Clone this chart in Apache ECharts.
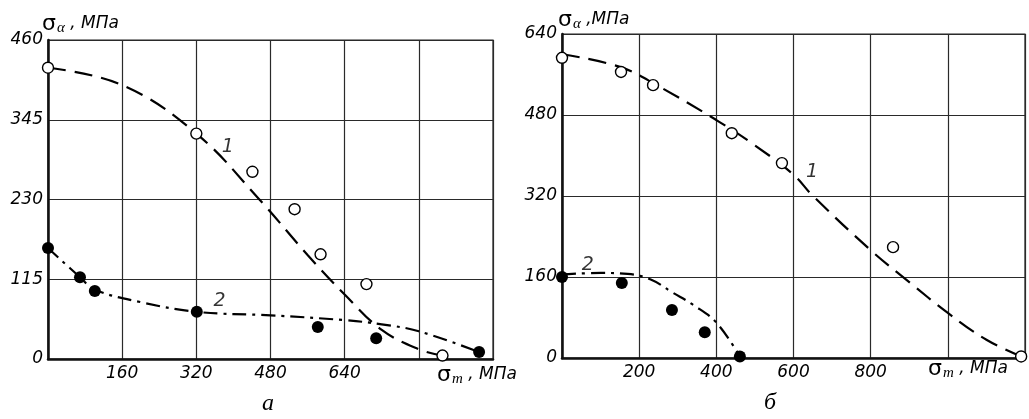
<!DOCTYPE html>
<html><head><meta charset="utf-8">
<script src="https://cdn.jsdelivr.net/npm/echarts@6/dist/echarts.min.js"></script>
<style>html,body{margin:0;padding:0;background:#fff}#c{width:1029px;height:419px}</style>
</head><body><div id="c"></div>
<script>
// ---- data: chart "а" (left) ----
const aXTicks = [160, 320, 480, 640];
const aYTicks = [0, 115, 230, 345, 460];
const aPts1 = [[0,420],[320,325],[441,270],[532,216],[588,151],[687,108],[851,5]];
const aCurve1 = [[0,420],[160,395],[320,325],[456,230],[560,150],[640,93],[720,42],[800,14],[851,5]];
const aPts2 = [[0,160],[69,118],[101,98],[321,68],[582,46],[708,30],[930,10]];
const aCurve2 = [[0,160],[69,118],[101,100],[200,82],[321,68],[480,63],[640,56],[720,50],[800,40],[930,10]];
// ---- data: chart "б" (right) ----
const bXTicks = [200, 400, 600, 800];
const bYTicks = [0, 160, 320, 480, 640];
const bPts1 = [[0,593],[153,565],[236,539],[440,444],[570,385],[858,219],[1190,3]];
const bCurve1 = [[0,600],[150,575],[250,537],[400,470],[500,420],[600,362],[648,322],[800,213],[900,150],[1000,89],[1100,36],[1190,3]];
const bPts2 = [[0,160],[155,148],[285,95],[370,51],[461,3]];
const bCurve2 = [[0,165],[100,168],[170,166],[230,155],[285,130],[340,105],[400,70],[461,3]];
const labels = {a1:[388,306], a2:[370,84], b1:[648,367], b2:[67,184]};

const FONT = 'DejaVu Sans';
const chart = echarts.init(document.getElementById('c'));
function xAxis(idx, max, interval, ticks){
  return {gridIndex: idx, type:'value', min:0, max:max, interval:interval,
    axisLine:{show:true, lineStyle:{color:'#111', width:2.5}},
    axisTick:{show:false},
    splitLine:{show:true, lineStyle:{color:'#2a2a2a', width:1.2}},
    axisLabel:{margin:6, fontFamily:FONT, fontStyle:'italic', fontSize:17, color:'#000',
      formatter: v => ticks.includes(v) ? String(v) : ''}};
}
function yAxis(idx, max, interval, ticks){
  return {gridIndex: idx, type:'value', min:0, max:max, interval:interval,
    axisLine:{show:true, lineStyle:{color:'#111', width:2.5}},
    axisTick:{show:false},
    splitLine:{show:true, lineStyle:{color:'#2a2a2a', width:1.2}},
    axisLabel:{margin:5, fontFamily:FONT, fontStyle:'italic', fontSize:17, color:'#000',
      formatter: v => ticks.includes(v) ? String(v) : ''}};
}
const dash = [18, 9];
const dashDot = [14, 6, 3, 6];
function curve(idx, data, type){
  return {type:'line', xAxisIndex:idx, yAxisIndex:idx, data:data, smooth:0.4, symbol:'none',
    lineStyle:{color:'#000', width:2.2, type:type}, silent:true, z:3};
}
function openPts(idx, data){
  return {type:'scatter', xAxisIndex:idx, yAxisIndex:idx, data:data, symbol:'circle', symbolSize:11,
    itemStyle:{color:'#fff', borderColor:'#000', borderWidth:1.4, opacity:1}, z:5};
}
function fillPts(idx, data){
  return {type:'scatter', xAxisIndex:idx, yAxisIndex:idx, data:data, symbol:'circle', symbolSize:12,
    itemStyle:{color:'#000', opacity:1}, z:5};
}
function tag(idx, pos, text){
  return {type:'scatter', xAxisIndex:idx, yAxisIndex:idx, data:[pos], symbolSize:0, z:6,
    label:{show:true, position:'inside', formatter:text, fontFamily:FONT, fontStyle:'italic', fontSize:19, color:'#000'}};
}
const rich = {
  s:{fontFamily:'DejaVu Sans', fontSize:22, fill:'#000'},
  sub:{fontFamily:'Liberation Serif', fontSize:15, fill:'#000', fontStyle:'italic', padding:[9,0,0,1]},
  t:{fontFamily:FONT, fontStyle:'italic', fontSize:17, fill:'#000'}
};
chart.setOption({
  animation:false,
  grid:[{left:48, top:40, width:445, height:319, show:true, borderColor:'#222', borderWidth:1.2},
        {left:562, top:34, width:463, height:324, show:true, borderColor:'#222', borderWidth:1.2}],
  xAxis:[xAxis(0, 960, 160, aXTicks), xAxis(1, 1200, 200, bXTicks)],
  yAxis:[yAxis(0, 460, 115, aYTicks), yAxis(1, 640, 160, bYTicks)],
  series:[
    curve(0, aCurve1, dash), curve(0, aCurve2, dashDot), openPts(0, aPts1), fillPts(0, aPts2),
    curve(1, bCurve1, dash), curve(1, bCurve2, dashDot), openPts(1, bPts1), fillPts(1, bPts2),
    tag(0, labels.a1, '1'), tag(0, labels.a2, '2'), tag(1, labels.b1, '1'), tag(1, labels.b2, '2')
  ],
  graphic:[
    {type:'text', left:42, top:13, style:{text:'{s|σ}{sub|α}{t| , МПа}', rich:rich}},
    {type:'text', left:558, top:9, style:{text:'{s|σ}{sub|α}{t| ,МПа}', rich:rich}},
    {type:'text', left:437, top:364, style:{text:'{s|σ}{sub|m}{t| , МПа}', rich:rich}},
    {type:'text', left:928, top:358, style:{text:'{s|σ}{sub|m}{t| , МПа}', rich:rich}},
    {type:'text', left:262, top:392, style:{text:'а', fontFamily:'Liberation Serif', fontStyle:'italic', fontSize:24, fill:'#000'}},
    {type:'text', left:764, top:391, style:{text:'б', fontFamily:'Liberation Serif', fontStyle:'italic', fontSize:24, fill:'#000'}}
  ]
});
</script></body></html>
